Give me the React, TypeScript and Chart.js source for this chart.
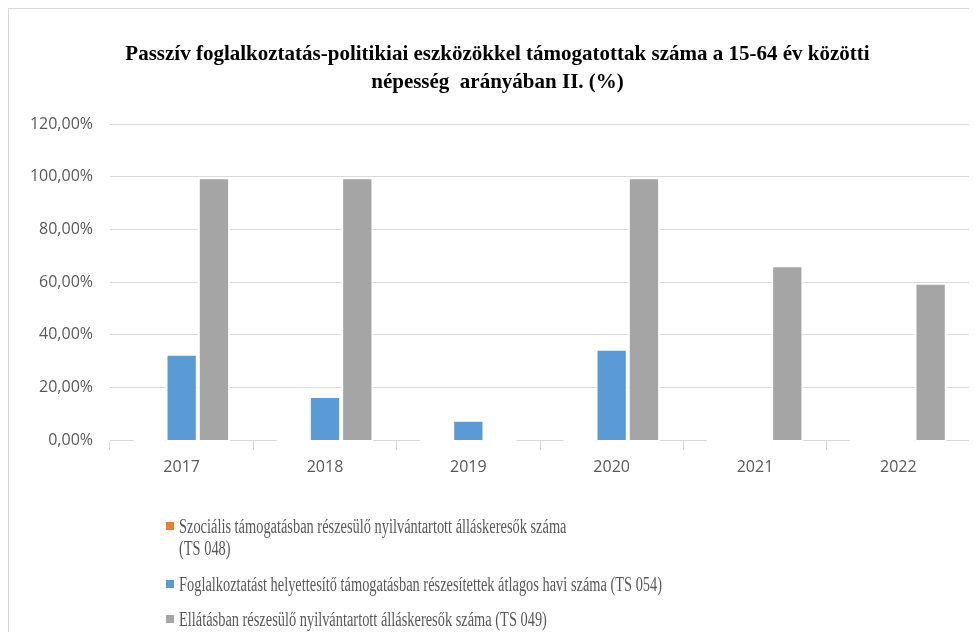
import React, { useEffect, useRef } from "react";
import { Chart, registerables } from "chart.js";

Chart.register(...registerables);

// ---- data ----
const categories = ["2017", "2018", "2019", "2020", "2021", "2022"];
const seriesNames = [
  "Szociális támogatásban részesülő nyilvántartott álláskeresők száma (TS 048)",
  "Foglalkoztatást helyettesítő támogatásban részesítettek átlagos havi száma (TS 054)",
  "Ellátásban részesülő nyilvántartott álláskeresők száma (TS 049)",
];
const legendLines = [
  ["Szociális támogatásban részesülő nyilvántartott álláskeresők száma", "(TS 048)"],
  ["Foglalkoztatást helyettesítő támogatásban részesítettek átlagos havi száma (TS 054)"],
  ["Ellátásban részesülő nyilvántartott álláskeresők száma (TS 049)"],
];
const szocialis = [0, 0, 0, 0, 0, 0];
const foglalkoztatast = [32.8, 16.7, 7.7, 34.7, 0, 0];
const ellatas = [99.9, 99.9, 0, 99.9, 66.4, 59.8];
const yMin = 0;
const yMax = 120;
const yStep = 20;
const titleLines = [
  "Passzív foglalkoztatás-politikiai eszközökkel támogatottak száma a 15-64 év közötti",
  "népesség  arányában II. (%)",
];
const seriesColors = ["#ed7d31", "#5b9bd5", "#a5a5a5"];

const fmtPct = (v: number) => v.toFixed(2).replace(".", ",") + "%";

export default function App() {
  const ref = useRef<HTMLCanvasElement | null>(null);

  useEffect(() => {
    if (!ref.current) return;
    const values = [szocialis, foglalkoztatast, ellatas];
    const chart = new Chart(ref.current, {
      type: "bar",
      data: {
        labels: categories,
        datasets: values.map((d, i) => ({
          label: seriesNames[i],
          data: d,
          backgroundColor: seriesColors[i],
          borderColor: "#ffffff",
          borderWidth: 2,
          borderSkipped: false,
          base: -0.8,
          categoryPercentage: 0.676,
          barPercentage: 1,
          clip: false,
        })),
      },
      options: {
        responsive: false,
        animation: false,
        events: [],
        layout: { padding: { left: 16, right: 7, top: 0, bottom: 142 } },
        plugins: {
          legend: { display: false },
          tooltip: { enabled: false },
          title: {
            display: true,
            text: titleLines,
            color: "#000000",
            font: { family: "'Liberation Serif', serif", weight: "bold", size: 21, lineHeight: 28 / 21 },
            padding: { top: 32, bottom: 27.3 },
          },
        },
        scales: {
          x: {
            grid: {
              display: true,
              drawOnChartArea: false,
              drawTicks: true,
              tickLength: 10,
              color: "#d9d9d9",
              offset: true,
            },
            border: { display: true, color: "#d9d9d9" },
            ticks: {
              color: "#595959",
              font: { family: "'Open Sans', sans-serif", size: 16 },
              padding: 8,
            },
            afterFit: (s: any) => {
              s.height = 50;
            },
          },
          y: {
            min: yMin,
            max: yMax,
            ticks: {
              stepSize: yStep,
              color: "#595959",
              font: { family: "'Open Sans', sans-serif", size: 16 },
              padding: 17,
              callback: (v: any) => fmtPct(Number(v)),
            },
            grid: { color: "#d9d9d9", drawTicks: false },
            border: { display: false },
            afterFit: (s: any) => {
              s.width = 85;
            },
          },
        },
      },
    });
    return () => chart.destroy();
  }, []);

  const legendTops = [506, 564, 599];
  return (
    <div
      style={{
        position: "relative",
        width: 968,
        height: 623,
        borderTop: "1px solid #d9d9d9",
        borderLeft: "1px solid #d9d9d9",
        overflow: "hidden",
        background: "#ffffff",
      }}
    >
      <canvas ref={ref} width={968} height={623} style={{ display: "block" }} />
      {legendLines.map((lines, i) => (
        <div key={i} style={{ position: "absolute", left: 157, top: legendTops[i] }}>
          <div
            style={{
              position: "absolute",
              left: 0,
              top: 7,
              width: 8,
              height: 8,
              background: seriesColors[i],
            }}
          />
          <div
            style={{
              position: "absolute",
              left: 13,
              top: 0,
              whiteSpace: "nowrap",
              fontFamily: "'Liberation Serif', serif",
              fontSize: 20,
              lineHeight: "22px",
              color: "#595959",
              transform: "scaleX(0.72)",
              transformOrigin: "left top",
            }}
          >
            {lines.map((l, j) => (
              <div key={j}>{l}</div>
            ))}
          </div>
        </div>
      ))}
    </div>
  );
}
